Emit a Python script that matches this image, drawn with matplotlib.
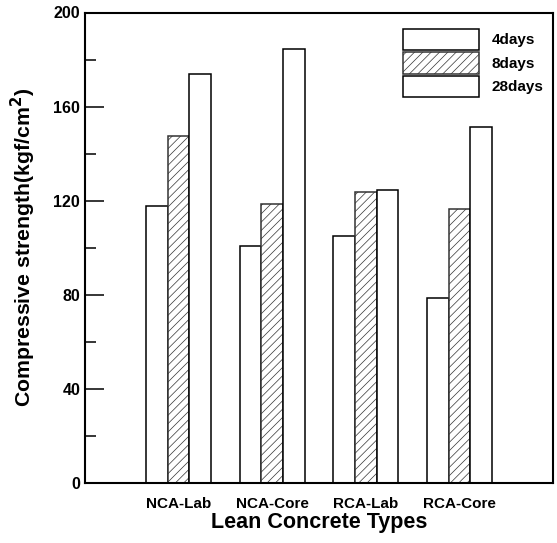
import numpy as np
import matplotlib
matplotlib.use("Agg")
import matplotlib.pyplot as plt
from matplotlib.ticker import MultipleLocator

# ---------- data ----------
types = ["NCA-Lab", "NCA-Core", "RCA-Lab", "RCA-Core"]
days_4 = [117.7, 100.7, 104.9, 78.5]
days_8 = [147.6, 118.6, 123.6, 116.5]
days_28 = [173.7, 184.3, 124.5, 151.2]
series_labels = ["4days", "8days", "28days"]

plt.rcParams["font.family"] = ["Liberation Sans", "DejaVu Sans"]
plt.rcParams["font.weight"] = "bold"
plt.rcParams["hatch.linewidth"] = 0.5

fig = plt.figure(figsize=(5.57, 5.43), dpi=100)
ax = fig.add_axes([85 / 557, 60 / 543, 468 / 557, 470.5 / 543])

x = np.arange(1, len(types) + 1)
w = 0.232
ax.bar(x - w, days_4, w, color="white", edgecolor="black", linewidth=1.1, label=series_labels[0])
ax.bar(x, days_8, w, color="white", edgecolor="#333333", linewidth=1.1, hatch="////",
       label=series_labels[1])
ax.bar(x + w, days_28, w, color="white", edgecolor="black", linewidth=1.1, label=series_labels[2])

ax.set_xlim(0, 5)
ax.set_ylim(0, 200)
ax.set_xticks(x)
ax.set_xticklabels(types, fontsize=11, fontweight="bold")
ax.tick_params(axis="x", length=0, pad=10)
ax.yaxis.set_major_locator(MultipleLocator(40))
ax.yaxis.set_minor_locator(MultipleLocator(20))
ax.tick_params(axis="y", which="major", direction="in", length=14, width=1.1, labelsize=11.5)
ax.tick_params(axis="y", which="minor", direction="in", length=8, width=1.1)
for lab in ax.get_yticklabels():
    lab.set_fontweight("bold")
for s in ax.spines.values():
    s.set_linewidth(1.5)

ax.set_xlabel("Lean Concrete Types", fontsize=15.5, fontweight="bold", labelpad=1)
ax.set_ylabel("Compressive strength(kgf/cm$^2$)", fontsize=15.3, fontweight="bold", labelpad=11)

ax.legend(loc="upper left", bbox_to_anchor=(0.679, 0.965), frameon=False, borderpad=0,
          borderaxespad=0, handlelength=5, handleheight=1.75, labelspacing=0.15,
          handletextpad=0.8, prop={"size": 11, "weight": "bold"})

fig.savefig("out.png", dpi=100)
